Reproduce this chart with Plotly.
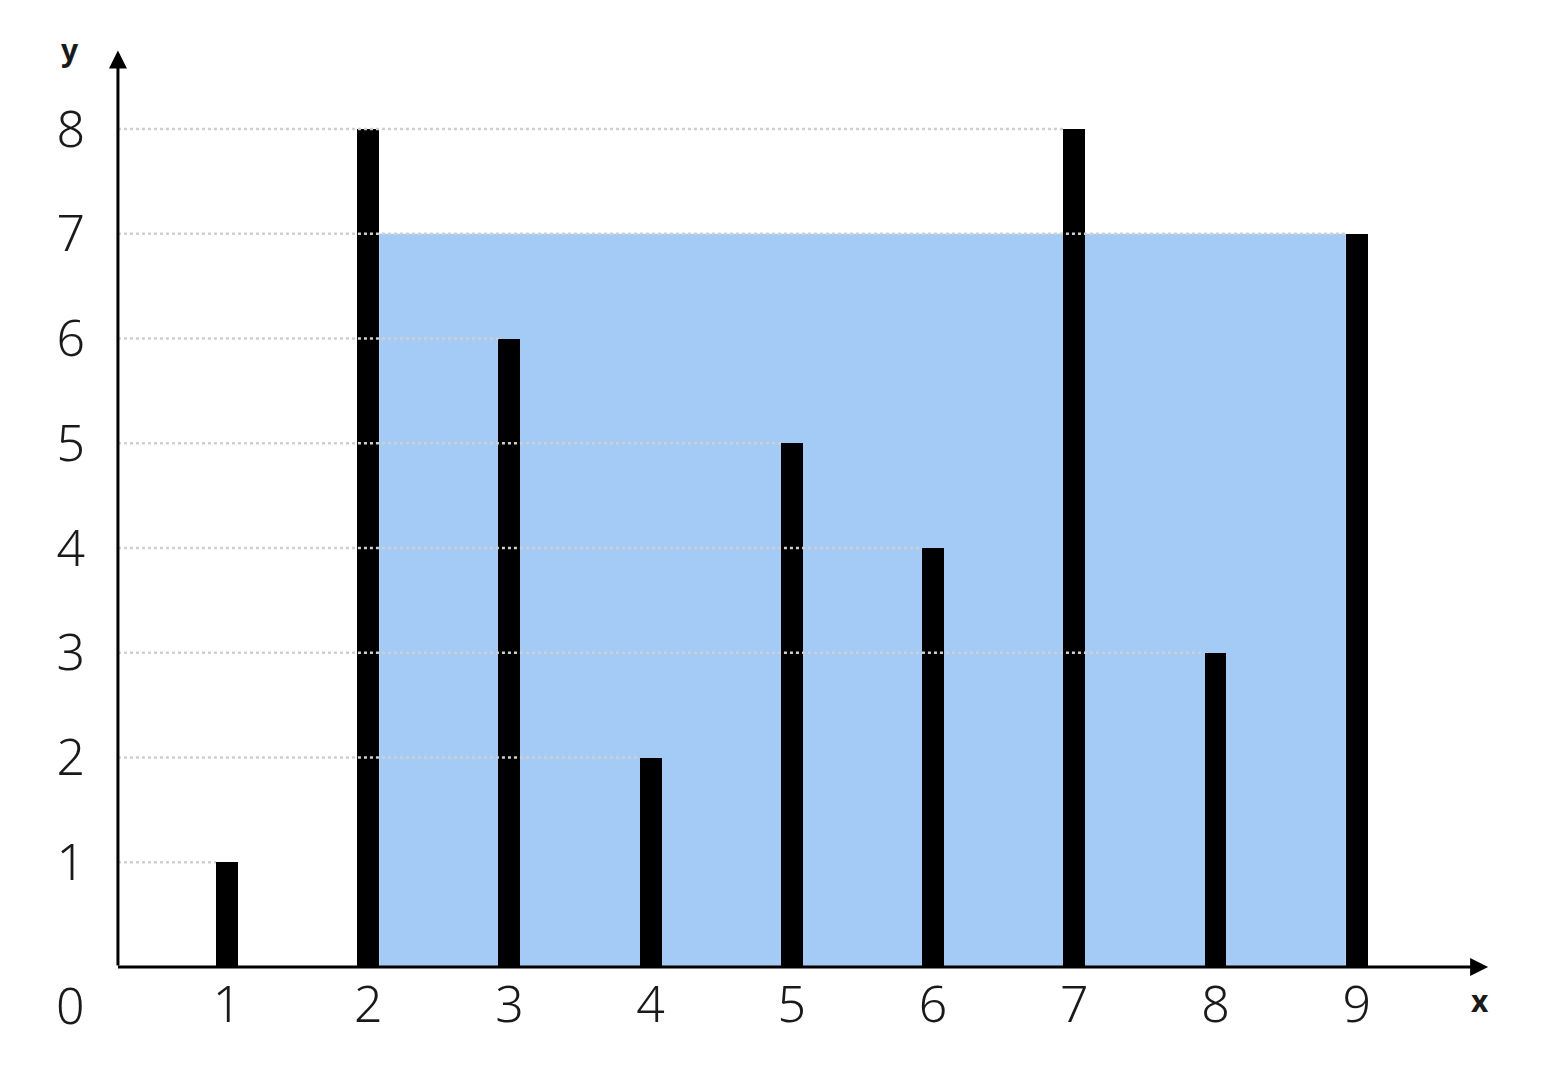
import plotly.graph_objects as go

# Data
positions = [1, 2, 3, 4, 5, 6, 7, 8, 9]
heights = [1, 8, 6, 2, 5, 4, 8, 3, 7]
x_tick_labels = ["1", "2", "3", "4", "5", "6", "7", "8", "9"]
y_tick_vals = [1, 2, 3, 4, 5, 6, 7, 8]
y_tick_labels = ["1", "2", "3", "4", "5", "6", "7", "8"]

# Container with most water (two-pointer)
i, j = 0, len(heights) - 1
best = (0, 0, 0)
while i < j:
    area = (positions[j] - positions[i]) * min(heights[i], heights[j])
    if area > best[0]:
        best = (area, i, j)
    if heights[i] < heights[j]:
        i += 1
    else:
        j -= 1
_, bi, bj = best
water_level = min(heights[bi], heights[bj])

BAR_W = 0.155
AXIS_X = 0.228
XMIN, XMAX = 0.0726, 10.0
YMIN, YMAX = 0, 8.85

fig = go.Figure()

# water rectangle
fig.add_shape(type="rect", layer="below",
              x0=positions[bi] + BAR_W / 2, x1=positions[bj] - BAR_W / 2,
              y0=0, y1=water_level,
              fillcolor="#A3CBF5", line=dict(width=0))

# gridlines: from y-axis to last bar with that height
for yv in y_tick_vals:
    idx = max(k for k, h in enumerate(heights) if h == yv)
    fig.add_trace(go.Scatter(
        x=[AXIS_X, positions[idx] - BAR_W / 2], y=[yv, yv], mode="lines",
        line=dict(color="#cfcfcf", width=2.5, dash="dot"),
        hoverinfo="skip", showlegend=False))

fig.add_trace(go.Bar(x=positions, y=heights, width=BAR_W,
                     marker=dict(color="black", line=dict(width=0)),
                     showlegend=False))

# axes with arrows
fig.add_annotation(x=AXIS_X, y=8.75, ax=AXIS_X, ay=0, xref="x", yref="y",
                   axref="x", ayref="y", showarrow=True, arrowhead=2,
                   arrowsize=1.2, arrowwidth=3, arrowcolor="black", text="")
fig.add_annotation(x=9.93, y=0, ax=AXIS_X - 0.01, ay=0, xref="x", yref="y",
                   axref="x", ayref="y", showarrow=True, arrowhead=2,
                   arrowsize=1.2, arrowwidth=3, arrowcolor="black", text="")

lab_font = dict(family="Noto Sans", size=50, color="#1a1a1a", weight=300)
small_font = dict(family="Noto Sans", size=30, color="#1a1a1a", weight=700)
fig.add_annotation(x=-0.0185, y=-0.041, xref="paper", yref="paper", text="0",
                   xanchor="center", yanchor="middle", showarrow=False, font=lab_font)
fig.add_annotation(x=-0.0185, y=0.99, xref="paper", yref="paper", text="y",
                   xanchor="center", yanchor="middle", showarrow=False, font=small_font)
fig.add_annotation(x=0.987, y=-0.0356, xref="paper", yref="paper", text="x",
                   xanchor="center", yanchor="middle", showarrow=False, font=small_font)

fig.update_layout(
    width=1526, height=1072,
    margin=dict(l=88, r=36, t=32, b=113),
    plot_bgcolor="white", paper_bgcolor="white",
    bargap=0,
    xaxis=dict(range=[XMIN, XMAX], tickvals=positions, ticktext=x_tick_labels,
               showgrid=False, zeroline=False, showline=False, ticks="",
               tickfont=lab_font, ticklabelstandoff=4),
    yaxis=dict(range=[YMIN, YMAX], tickvals=y_tick_vals, ticktext=y_tick_labels,
               showgrid=False, zeroline=False, showline=False, ticks="",
               tickfont=lab_font, ticklabelstandoff=10),
)

fig.write_html("out.html")
